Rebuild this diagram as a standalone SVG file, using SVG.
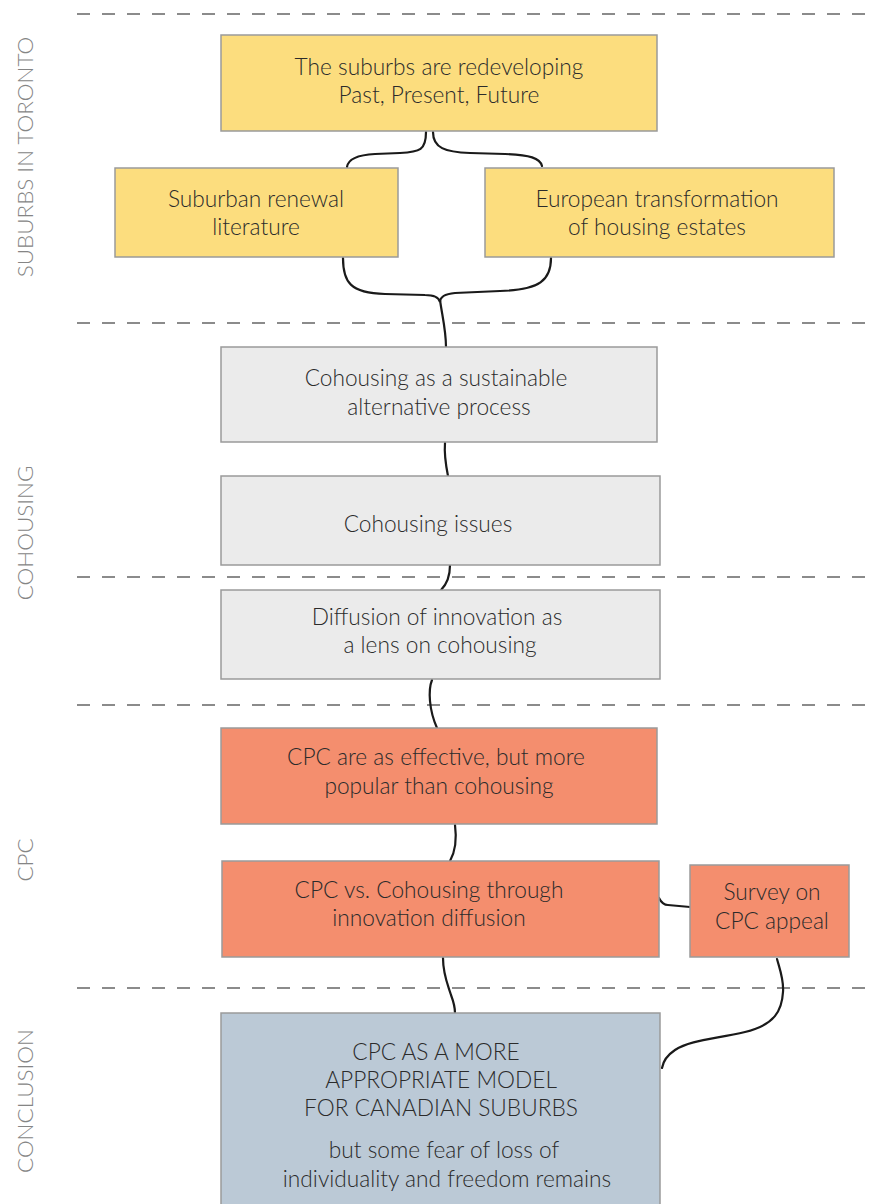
<svg xmlns="http://www.w3.org/2000/svg" width="876" height="1204" viewBox="0 0 876 1204">
<style>
.box{stroke:#9a9a9a;stroke-width:1.5}
.y{fill:#FCDD7E}.g{fill:#EBEBEB}.o{fill:#F48E6E}.b{fill:#BBC9D6}
.t{font-family:Lato,"Liberation Sans",sans-serif;font-weight:300;font-size:22.7px;fill:#2b2b2b;text-anchor:middle}
.side{font-family:Lato,"Liberation Sans",sans-serif;font-weight:300;font-size:22.4px;fill:#858585;text-anchor:middle}
.dash{stroke:#666;stroke-width:1.6;stroke-dasharray:13 12;fill:none}
.c{fill:none;stroke:#1a1a1a;stroke-width:2.2;stroke-linecap:round}
</style>
<rect width="876" height="1204" fill="#fff"/>
<g id="dividers">
<line class="dash" x1="77" y1="14" x2="876" y2="14"/>
<line class="dash" x1="77" y1="323" x2="876" y2="323"/>
<line class="dash" x1="77" y1="577" x2="876" y2="577"/>
<line class="dash" x1="77" y1="705" x2="876" y2="705"/>
<line class="dash" x1="77" y1="988" x2="876" y2="988"/>
</g>
<g id="section-labels">
<text class="side" transform="translate(33,157) rotate(-90)">SUBURBS IN TORONTO</text>
<text class="side" transform="translate(33,533) rotate(-90)">COHOUSING</text>
<text class="side" transform="translate(33,860) rotate(-90)">CPC</text>
<text class="side" transform="translate(33,1101) rotate(-90)">CONCLUSION</text>
</g>
<g id="connectors">
<path class="c" d="M426,132 C426,150 420,152 400,153 L375,154 C355,155 348,160 347,167"/>
<path class="c" d="M433,132 C433,148 445,152 470,153 L505,154 C530,155 540,158 542,166"/>
<path class="c" d="M343,258 C343,282 350,293 385,294 L425,295 C435,295 439,298 440,302 C440,297 444,294 455,293 L500,291 C540,290 551,280 551,258"/>
<path class="c" d="M440,300 C442,315 446,330 446,347"/>
<path class="c" d="M445,443 C444,455 446,466 448,476"/>
<path class="c" d="M450,565 C450,577 446,585 441,590"/>
<path class="c" d="M432,680 C428,690 429,710 437,728"/>
<path class="c" d="M455,825 C457,840 455,852 450,861"/>
<path class="c" d="M443,958 C443,975 448,985 451,995 C454,1003 455,1008 455,1013"/>
<path class="c" d="M659,898 C661,902 663,905 668,905 L690,907"/>
<path class="c" d="M777,959 C780,970 784,980 783,992 C782,1010 775,1025 745,1032 C715,1039 690,1040 675,1050 C666,1056 663,1062 662,1068"/>
</g>
<g id="n1"><rect class="box y" x="221" y="35" width="436" height="96"/>
<text class="t" x="439" y="75">The suburbs are redeveloping</text>
<text class="t" x="439" y="103">Past, Present, Future</text></g>
<g id="n2"><rect class="box y" x="115" y="168" width="283" height="89"/>
<text class="t" x="256" y="207">Suburban renewal</text>
<text class="t" x="256" y="235">literature</text></g>
<g id="n3"><rect class="box y" x="485" y="168" width="349" height="89"/>
<text class="t" x="657" y="207">European transformation</text>
<text class="t" x="657" y="235">of housing estates</text></g>
<g id="n4"><rect class="box g" x="221" y="347" width="436" height="95"/>
<text class="t" x="436" y="386">Cohousing as a sustainable</text>
<text class="t" x="439" y="415">alternative process</text></g>
<g id="n5"><rect class="box g" x="221" y="476" width="439" height="89"/>
<text class="t" x="428" y="532">Cohousing issues</text></g>
<g id="n6"><rect class="box g" x="221" y="590" width="439" height="89"/>
<text class="t" x="437" y="625">Diffusion of innovation as</text>
<text class="t" x="440" y="653">a lens on cohousing</text></g>
<g id="n7"><rect class="box o" x="221" y="728" width="436" height="96"/>
<text class="t" x="436" y="765">CPC are as effective, but more</text>
<text class="t" x="439" y="794">popular than cohousing</text></g>
<g id="n8"><rect class="box o" x="222" y="861" width="437" height="96"/>
<text class="t" x="429" y="898">CPC vs. Cohousing through</text>
<text class="t" x="429" y="926">innovation diffusion</text></g>
<g id="n9"><rect class="box o" x="690" y="865" width="159" height="92"/>
<text class="t" x="772" y="900">Survey on</text>
<text class="t" x="772" y="929">CPC appeal</text></g>
<g id="n10"><rect class="box b" x="221" y="1013" width="439" height="200"/>
<text class="t" x="436" y="1060">CPC AS A MORE</text>
<text class="t" x="441" y="1088">APPROPRIATE MODEL</text>
<text class="t" x="441" y="1116">FOR CANADIAN SUBURBS</text>
<text class="t" x="444" y="1158">but some fear of loss of</text>
<text class="t" x="447" y="1187">individuality and freedom remains</text></g>
</svg>
